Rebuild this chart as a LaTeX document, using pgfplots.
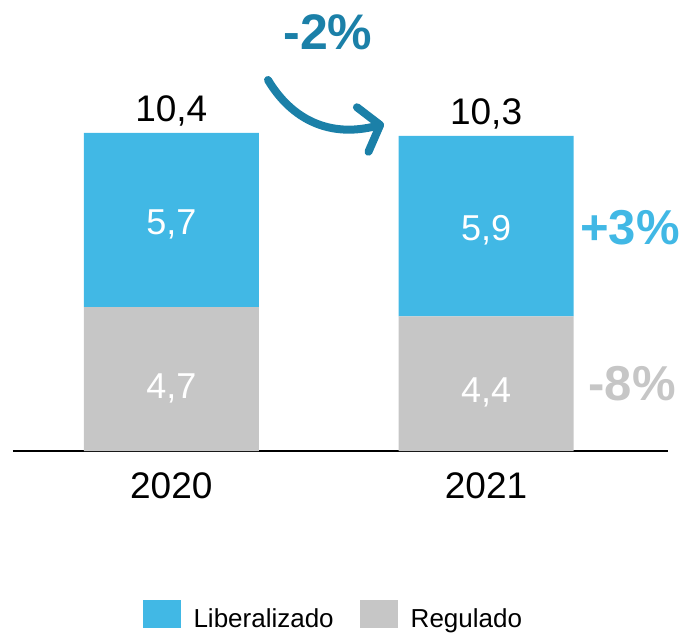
\documentclass[border=0pt]{standalone}
\usepackage{pgfplots}
\pgfplotsset{compat=1.18}
\usepackage{fontspec}
\setmainfont{Liberation Sans}
\usetikzlibrary{arrows.meta}
\definecolor{libblue}{HTML}{41B8E5}
\definecolor{reggray}{HTML}{C6C6C6}
\definecolor{arrteal}{HTML}{1B80A8}
\begin{document}
\begin{tikzpicture}[x=1pt,y=1pt]
\useasboundingbox (0,0) rectangle (687,632);
\begin{axis}[
  at={(13pt,181pt)}, anchor=south west,
  scale only axis, width=655pt, height=428.4pt,
  ybar stacked, bar width=0.556,
  xmin=-0.503, xmax=1.578, ymin=0, ymax=14,
  axis x line*=bottom, axis y line=none,
  x axis line style={-, line width=2pt, black},
  xtick={0,1}, xticklabels={2020,2021},
  major tick length=0pt,
  xticklabel style={font=\fontsize{37}{40}\selectfont, inner sep=0pt, anchor=north, yshift=-21pt},
  clip=false,
  legend style={at={(0.489,-0.384)}, anchor=center, draw=none, fill=none,
    legend columns=-1, font=\fontsize{26}{28}\selectfont,
    /tikz/every odd column/.append style={column sep=11pt},
    /tikz/every even column/.append style={column sep=24pt},
    inner sep=0pt},
  legend cell align=left,
  legend image code/.code={\fill[#1, draw=none] (0pt,-10pt) rectangle (38pt,18pt);},
  legend reversed,
]
\addplot[fill=reggray, draw=none] coordinates {(0,4.7) (1,4.4)};
\addplot[fill=libblue, draw=none] coordinates {(0,5.7) (1,5.9)};
\legend{Regulado, Liberalizado}
% totals
\node[font=\fontsize{37}{40}\selectfont, inner sep=0pt, anchor=base, yshift=11pt] at (axis cs:0,10.4) {10,4};
\node[font=\fontsize{37}{40}\selectfont, inner sep=0pt, anchor=base, yshift=11pt] at (axis cs:1,10.3) {10,3};
\coordinate (a) at (axis cs:0,1.72);
\coordinate (b) at (axis cs:1,1.6);
\coordinate (c) at (axis cs:0,7.07);
\coordinate (d) at (axis cs:1,6.88);
\end{axis}
% inside labels (after the axis so they lie above the bars)
\tikzset{inlab/.style={text=white, font=\fontsize{36}{38}\selectfont, inner sep=0pt, anchor=base}}
\node[inlab] at (a) {4,7};
\node[inlab] at (b) {4,4};
\node[inlab] at (c) {5,7};
\node[inlab] at (d) {5,9};
% annotations (picture coords: pt = px, y flipped)
\node[font=\bfseries\fontsize{50}{52}\selectfont, text=arrteal, inner sep=0pt] at (328,600) {-2\%};
\node[font=\bfseries\fontsize{49}{52}\selectfont, text=libblue, inner sep=0pt] at (630,404) {+3\%};
\node[font=\bfseries\fontsize{49}{52}\selectfont, text=reggray, inner sep=0pt] at (632,248) {-8\%};
\draw[arrteal, line width=8pt, line cap=round, line join=round,
  -{Straight Barb[length=18pt, width=46pt, line cap=round, line join=round]}]
  (268,552) .. controls (292,512) and (330,494) .. (384,508);
\end{tikzpicture}
\end{document}
